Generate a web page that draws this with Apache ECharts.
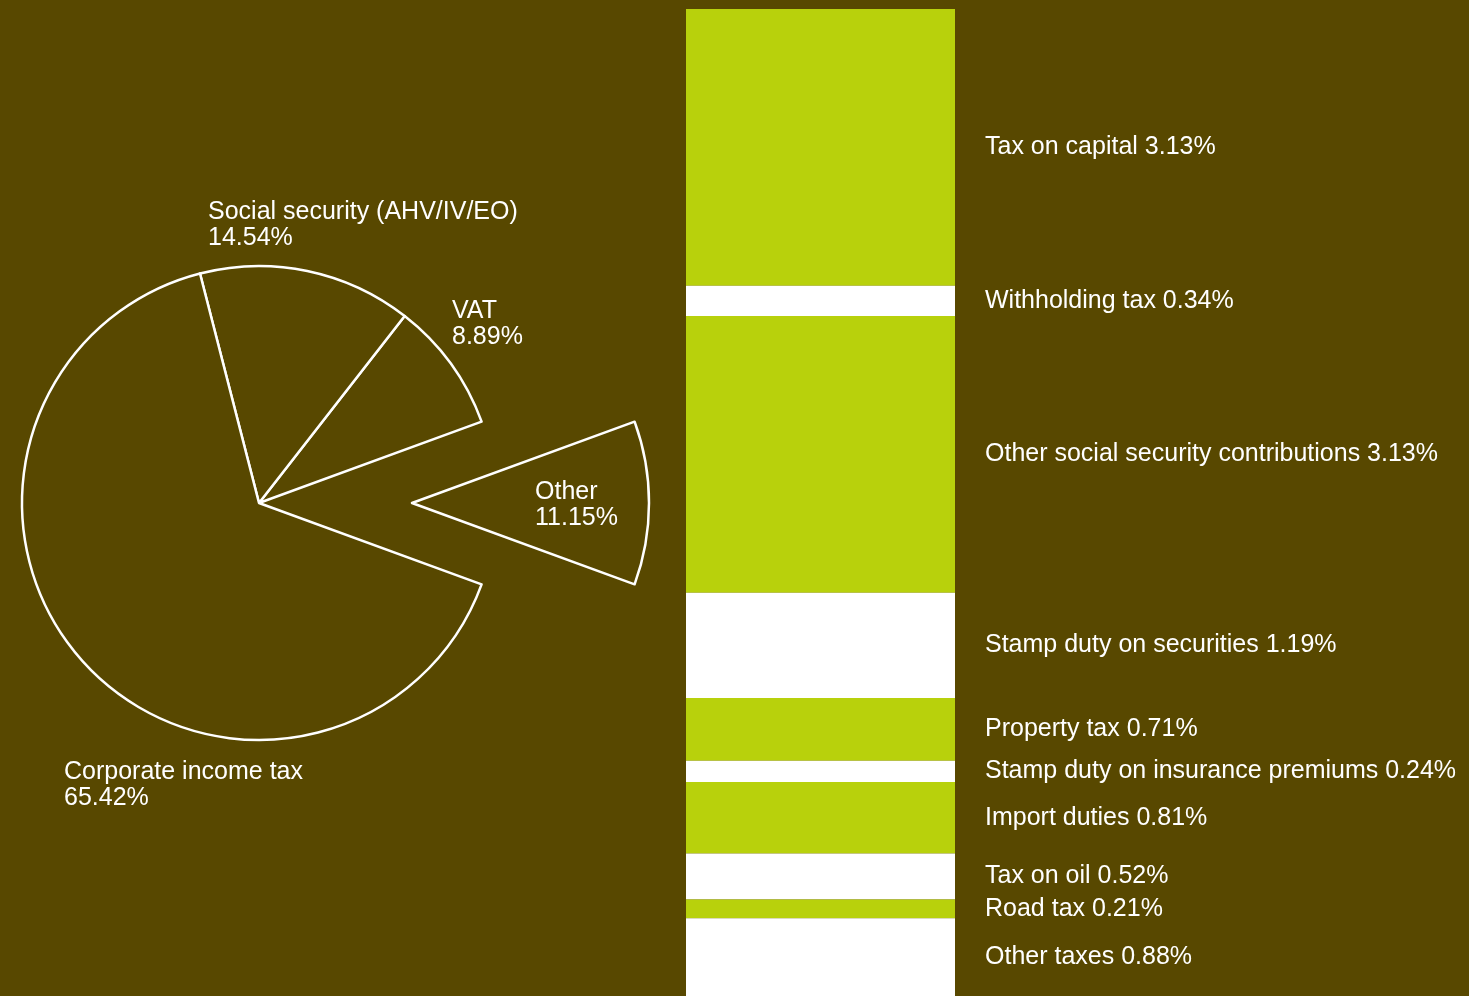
<!DOCTYPE html>
<html>
<head>
  <meta charset="UTF-8">
  <title>Tax revenue breakdown</title>
  <script src="https://cdn.jsdelivr.net/npm/echarts@6/dist/echarts.min.js"></script>
  <style>
    html, body { margin: 0; padding: 0; background: #584800; }
  </style>
</head>
<body>
  <div id="chart" style="width:1469px; height:996px;"></div>
  <script>
    // main split (pie), drawn counter-clockwise from the exploded "Other" slice
    var pieNames = ['Other', 'VAT', 'Social security (AHV/IV/EO)', 'Corporate income tax'];
    var pieValues = [11.15, 8.89, 14.54, 65.42];

    // breakdown of "Other" (stacked bar, top to bottom)
    var otherNames = ['Tax on capital', 'Withholding tax', 'Other social security contributions',
      'Stamp duty on securities', 'Property tax', 'Stamp duty on insurance premiums',
      'Import duties', 'Tax on oil', 'Road tax', 'Other taxes'];
    var otherValues = [3.13, 0.34, 3.13, 1.19, 0.71, 0.24, 0.81, 0.52, 0.21, 0.88];

    var bg = '#584800';
    var lime = '#b8d10c';
    var font = 'Liberation Sans, Arial, sans-serif';

    // where each pie label sits (top-left corner of the text)
    var pieLabelPos = [[535, 479], [452, 298], [208, 199], [64, 759]];

    var total = otherValues.reduce(function (a, b) { return a + b; }, 0);
    var startAngle = pieValues[0] / 100 * 180;

    var pieLabel = {
      show: true,
      position: 'outside',
      color: '#ffffff',
      fontFamily: font,
      fontSize: 25,
      lineHeight: 26,
      width: 400,
      formatter: '{b}\n{c}%'
    };
    var hidden = { color: 'none', borderWidth: 0 };

    // two pies on top of each other: the main one, and the exploded "Other" slice
    function pieSeries(center, showExploded) {
      return {
        type: 'pie',
        center: center,
        radius: 237,
        clockwise: false,
        startAngle: -startAngle,
        silent: true,
        data: pieNames.map(function (n, i) {
          var visible = showExploded ? i === 0 : i !== 0;
          var item = { name: n, value: pieValues[i] };
          if (!visible) {
            item.itemStyle = hidden;
            item.label = { show: false };
          }
          return item;
        }),
        itemStyle: { color: bg, borderColor: '#ffffff', borderWidth: 2.5 },
        label: pieLabel,
        labelLine: { show: false },
        labelLayout: function (p) {
          var pos = pieLabelPos[p.dataIndex];
          return { x: pos[0], y: pos[1], align: 'left', verticalAlign: 'top' };
        }
      };
    }

    var barSeries = otherNames.map(function (name, i) {
      return {
        name: name,
        type: 'bar',
        stack: 'other',
        barWidth: '100%',
        data: [otherValues[i]],
        itemStyle: { color: i % 2 === 0 ? lime : '#ffffff' },
        label: {
          show: true,
          position: 'right',
          distance: 30,
          color: '#ffffff',
          fontFamily: font,
          fontSize: 25,
          formatter: '{a} {c}%'
        },
        emphasis: { disabled: true }
      };
    });

    var chart = echarts.init(document.getElementById('chart'), null, {renderer: 'canvas'});
    chart.setOption({
      backgroundColor: bg,
      animation: false,
      grid: { left: 686, width: 269, top: 9, bottom: 0 },
      xAxis: { type: 'category', data: [''], show: false },
      yAxis: { type: 'value', inverse: true, min: 0, max: total, show: false },
      series: [
        pieSeries([259, 503], false),
        pieSeries([412, 503], true)
      ].concat(barSeries)
    });
  </script>
</body>
</html>
